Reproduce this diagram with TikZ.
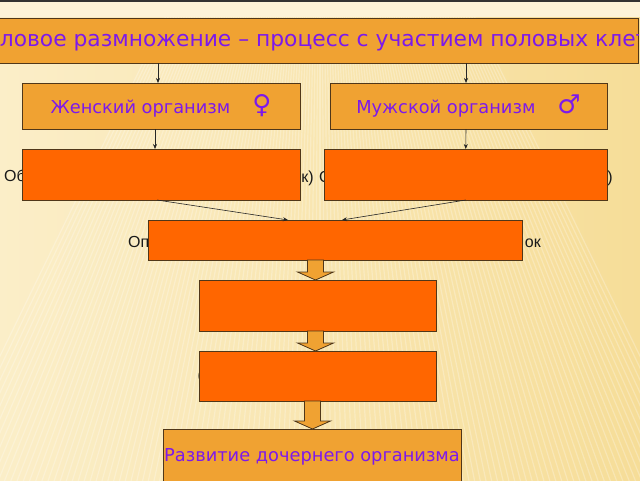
\documentclass[tikz,border=0pt]{standalone}
\usepackage{fontspec}
\setmainfont{DejaVu Sans}
\newfontfamily\arialfont{Liberation Sans}
\usetikzlibrary{calc,arrows.meta}

\definecolor{oranzh}{RGB}{240,162,50}
\definecolor{krasn}{RGB}{255,102,0}
\definecolor{kontur}{RGB}{80,55,25}
\definecolor{fiolet}{RGB}{125,25,235}
\definecolor{fonA}{RGB}{251,238,200}
\definecolor{fonB}{RGB}{246,221,152}
\definecolor{polosa}{RGB}{253,243,216}

% tolstaya strelka: otkuda, kuda, x
\newcommand{\strelka}[3]{%
  \draw[tolstaya] let \p1=(#1.south), \p2=(#2.north) in
    (#3-8,\y1) -- (#3-8,\y2+8) -- (#3-18,\y2+8) -- (#3,\y2)
    -- (#3+18,\y2+8) -- (#3+8,\y2+8) -- (#3+8,\y1) -- cycle;}

\begin{document}
\begin{tikzpicture}[x=1pt,y=1pt,
  blok/.style={draw=kontur,line width=.8pt,fill=oranzh,inner sep=0pt,outer sep=0pt},
  blokk/.style={blok,fill=krasn},
  nadpis/.style={text=fiolet,font=\fontsize{17.8}{21}\selectfont},
  skryt/.style={inner sep=0pt,text=black!90,font=\arialfont\fontsize{16}{19}\selectfont},
  strel/.style={-{Stealth[length=5pt,width=4pt]},line width=.6pt,draw=black!85},
  tolstaya/.style={draw=kontur,line width=.8pt,fill=oranzh}]

\useasboundingbox (0,0) rectangle (640,-480);

% fon
\shade[left color=fonA,right color=fonB] (0,0) rectangle (640,-480);
\begin{scope}
\clip (0,-17) rectangle (640,-480);
\foreach \u in {-26,-25.6,...,26}
  \draw[white,opacity=.25,line width=1.2pt] (320,300) -- ++(270+\u:900);
\end{scope}
\fill[polosa] (0,0) rectangle (640,-17);
\fill[black!80] (0,0) rectangle (640,-1.5);

% zagolovok
\node[blok,minimum width=640pt,minimum height=45pt] (polovoe) at (318,-40.5) {};
\begin{scope}
\clip (polovoe.south west) rectangle (polovoe.north east);
\node[nadpis,font=\fontsize{21.8}{25}\selectfont] (polovoeT) at (322.5,-40.5)
  {Половое размножение – процесс с участием половых клеток};
\end{scope}

\node[blok,nadpis,minimum width=278pt,minimum height=46pt] (zhen) at (161,-106)
  {Женский организм\hspace{22pt}{\fontsize{26}{26}\selectfont ♀}};
\node[blok,nadpis,minimum width=277pt,minimum height=46pt] (muzh) at (468.5,-106)
  {Мужской организм\hspace{22pt}{\fontsize{26}{26}\selectfont ♂}};

% teksty pod blokami
\node[skryt,anchor=base west] (obZh) at (4,-181) {Об};
\node[skryt,anchor=base east] (kZh) at (314,-182) {к)};
\node[skryt,anchor=base west] (oM) at (319,-182) {О};
\node[skryt,anchor=base east] (skM) at (613,-182) {)};
\node[skryt,anchor=base west] (opA) at (128,-247) {Оп};
\node[skryt,anchor=base east] (opB) at (541,-247) {ок};
\node[skryt,anchor=base west] (skA) at (197.5,-380) {(};
\node[skryt,anchor=base east] (skB) at (437.5,-380) {)};

\node[blokk,minimum width=278pt,minimum height=51pt] (gametaZh) at (161,-174.5) {};
\node[blokk,minimum width=282.5pt,minimum height=51pt] (gametaM) at (465.75,-174.5) {};
\node[blokk,minimum width=374pt,minimum height=40pt] (opl) at (335,-240) {};
\node[blokk,minimum width=237pt,minimum height=51pt] (shagA) at (317.5,-305.5) {};
\node[blokk,minimum width=237pt,minimum height=50pt] (shagB) at (317.5,-376) {};
\node[blok,nadpis,minimum width=298pt,minimum height=56pt] (razv) at (312,-457)
  {Развитие дочернего организма};

\draw[strel] ($(polovoe.south -| zhen.north)+(-3,0)$) -- ($(zhen.north)+(-3,0)$);
\draw[strel] ($(polovoe.south -| muzh.north)+(-2.5,0)$) -- ($(muzh.north)+(-2.5,0)$);
\draw[strel] ($(zhen.south)+(-6,0)$) -- ($(gametaZh.north)+(-6,0)$);
\draw[strel] ($(muzh.south)+(-2.5,0)$) -- (gametaM.north);
\draw[strel] ($(gametaZh.south)+(-4,0)$) -- ($(opl.north)+(-47,0)$);
\draw[strel] (gametaM.south) -- ($(opl.north)+(7,0)$);

\strelka{opl}{shagA}{315.5}
\strelka{shagA}{shagB}{315.5}
\strelka{shagB}{razv}{312.5}

\end{tikzpicture}
\end{document}
